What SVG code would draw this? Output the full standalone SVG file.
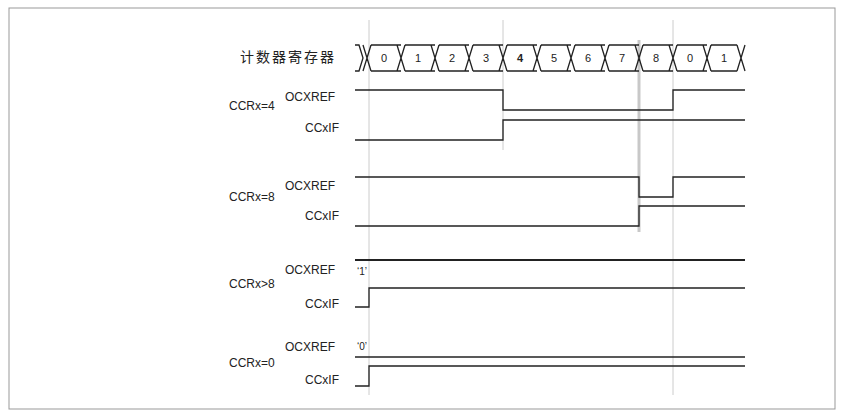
<svg xmlns="http://www.w3.org/2000/svg" width="843" height="415" viewBox="0 0 843 415">
<style>
text{font-family:"Liberation Sans","Noto Sans CJK SC",sans-serif;font-size:12px;fill:#222}
.s{fill:none;stroke:#222;stroke-width:1.3}
.g{stroke:#ccc;stroke-width:1}
.n{text-anchor:middle;font-size:11px}
</style>
<rect x="0" y="0" width="843" height="415" fill="#fff"/>
<rect x="9" y="8" width="826" height="401" fill="none" stroke="#999" stroke-width="1"/>
<g id="grid">
<line class="g" x1="369" y1="20" x2="369" y2="395"/>
<line class="g" x1="503" y1="20" x2="503" y2="150"/>
<line x1="639" y1="40" x2="639" y2="232" stroke="#c8c8c8" stroke-width="3"/>
<line class="g" x1="673" y1="20" x2="673" y2="395"/>
</g>
<g id="counter">
<text x="240" y="62" style="font-size:14px;letter-spacing:2px">计数器寄存器</text>
<path class="s" d="M355,45 L359,45 L363,58 L359,71 L355,71
M371,45 L401,45 M371,71 L401,71 M405,45 L435,45 M405,71 L435,71 M439,45 L469,45 M439,71 L469,71 M473,45 L503,45 M473,71 L503,71 M507,45 L537,45 M507,71 L537,71 M541,45 L571,45 M541,71 L571,71 M575,45 L605,45 M575,71 L605,71 M609,45 L639,45 M609,71 L639,71 M643,45 L673,45 M643,71 L673,71 M677,45 L707,45 M677,71 L707,71 M711,45 L737,45 M711,71 L737,71
M363,45 L371,71 M363,71 L371,45 M397,45 L405,71 M397,71 L405,45 M431,45 L439,71 M431,71 L439,45 M465,45 L473,71 M465,71 L473,45 M499,45 L507,71 M499,71 L507,45 M533,45 L541,71 M533,71 L541,45 M567,45 L575,71 M567,71 L575,45 M601,45 L609,71 M601,71 L609,45 M635,45 L643,71 M635,71 L643,45 M669,45 L677,71 M669,71 L677,45 M703,45 L711,71 M703,71 L711,45 M737,45 L741,58 L737,71 M741,58 L745,45 M741,58 L745,71"/>
<text class="n" x="384" y="62">0</text><text class="n" x="418" y="62">1</text><text class="n" x="452" y="62">2</text><text class="n" x="486" y="62">3</text><text class="n" x="520" y="62" style="font-weight:bold">4</text><text class="n" x="554" y="62">5</text><text class="n" x="588" y="62">6</text><text class="n" x="622" y="62">7</text><text class="n" x="656" y="62">8</text><text class="n" x="690" y="62">0</text><text class="n" x="724" y="62">1</text>
</g>
<g id="ccr4">
<text x="229" y="110">CCRx=4</text><text x="285" y="101">OCXREF</text><text x="305" y="132">CCxIF</text>
<path class="s" d="M355,90 H503 V110 H673 V90 H745"/>
<path class="s" d="M355,140 H503 V120 H745"/>
</g>
<g id="ccr8">
<text x="229" y="201">CCRx=8</text><text x="285" y="190">OCXREF</text><text x="305" y="220">CCxIF</text>
<path class="s" d="M355,177 H639 V197 H673 V177 H745"/>
<path class="s" d="M355,226 H639 V206 H745"/>
</g>
<g id="ccrgt8">
<text x="229" y="288">CCRx&gt;8</text><text x="285" y="274">OCXREF</text><text x="305" y="308">CCxIF</text>
<text x="357" y="275" style="font-size:10px">‘1’</text>
<line x1="355" y1="260" x2="745" y2="260" stroke="#222" stroke-width="2"/>
<path class="s" d="M355,307 H369 V288 H745"/>
</g>
<g id="ccr0">
<text x="229" y="367">CCRx=0</text><text x="285" y="351">OCXREF</text><text x="305" y="384">CCxIF</text>
<text x="357" y="350" style="font-size:10px">‘0’</text>
<line class="s" x1="355" y1="357" x2="745" y2="357"/>
<path class="s" d="M355,386 H369 V366 H745"/>
</g>
</svg>
